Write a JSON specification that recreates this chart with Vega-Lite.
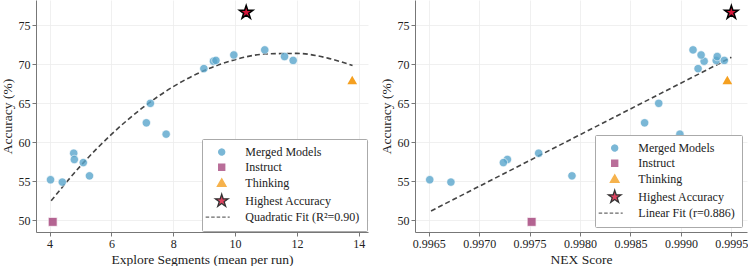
{
  "padding": {"left": 0, "top": 0, "right": 0, "bottom": 0},
  "datasets": {
    "models": [
      {"type": "Merged Models", "seg": 4.03, "nex": 0.99651, "acc": 55.2},
      {"type": "Merged Models", "seg": 4.41, "nex": 0.99672, "acc": 54.9},
      {"type": "Merged Models", "seg": 4.78, "nex": 0.99759, "acc": 58.6},
      {"type": "Merged Models", "seg": 4.80, "nex": 0.99728, "acc": 57.8},
      {"type": "Merged Models", "seg": 5.09, "nex": 0.99724, "acc": 57.4},
      {"type": "Merged Models", "seg": 5.29, "nex": 0.99792, "acc": 55.7},
      {"type": "Merged Models", "seg": 7.13, "nex": 0.99864, "acc": 62.5},
      {"type": "Merged Models", "seg": 7.26, "nex": 0.99878, "acc": 65.0},
      {"type": "Merged Models", "seg": 7.77, "nex": 0.99899, "acc": 61.05},
      {"type": "Merged Models", "seg": 8.99, "nex": 0.99917, "acc": 69.45},
      {"type": "Merged Models", "seg": 9.30, "nex": 0.99923, "acc": 70.4},
      {"type": "Merged Models", "seg": 9.38, "nex": 0.99935, "acc": 70.5},
      {"type": "Merged Models", "seg": 9.96, "nex": 0.99920, "acc": 71.2},
      {"type": "Merged Models", "seg": 10.96, "nex": 0.99912, "acc": 71.85},
      {"type": "Merged Models", "seg": 11.60, "nex": 0.99936, "acc": 71.0},
      {"type": "Merged Models", "seg": 11.88, "nex": 0.99943, "acc": 70.5},
      {"type": "Instruct", "seg": 4.10, "nex": 0.99752, "acc": 49.8},
      {"type": "Thinking", "seg": 13.79, "nex": 0.99946, "acc": 68.0},
      {"type": "Highest Accuracy", "seg": 10.36, "nex": 0.99950, "acc": 76.65}
    ],
    "quad": [
      {"seg": 4.05, "acc": 52.5},
      {"seg": 5.0, "acc": 56.97},
      {"seg": 6.0, "acc": 61.02},
      {"seg": 7.0, "acc": 64.41},
      {"seg": 8.0, "acc": 67.14},
      {"seg": 9.0, "acc": 69.2},
      {"seg": 10.0, "acc": 70.6},
      {"seg": 11.0, "acc": 71.33},
      {"seg": 12.0, "acc": 71.4},
      {"seg": 13.0, "acc": 70.8},
      {"seg": 13.8, "acc": 69.84}
    ],
    "lin": [
      {"nex": 0.996523, "acc": 51.2},
      {"nex": 0.9995, "acc": 70.9}
    ]
  },
  "spacing": 11,
  "resolve": {
    "scale": {"color": "independent", "shape": "independent", "stroke": "independent", "strokeDash": "independent"},
    "legend": {"color": "independent", "shape": "independent", "stroke": "independent", "strokeDash": "independent"}
  },
  "hconcat": [
    {
      "width": 332,
      "height": 232,
      "layer": [
        {
          "data": {"name": "quad"},
          "mark": {"type": "line", "color": "#444444", "strokeDash": [5, 3], "strokeWidth": 1.6, "interpolate": "monotone"},
          "encoding": {
            "x": {"field": "seg", "type": "quantitative"},
            "y": {"field": "acc", "type": "quantitative"}
          }
        },
        {
          "data": {"name": "models"},
          "transform": [{"filter": {"field": "type", "equal": "Merged Models"}}],
          "mark": {"type": "point", "filled": true, "size": 70, "opacity": 0.8, "strokeWidth": 0.8},
          "encoding": {
            "x": {"field": "seg", "type": "quantitative"},
            "y": {"field": "acc", "type": "quantitative"},
            "color": {
              "field": "type", "type": "nominal",
              "scale": {"domain": ["Merged Models", "Instruct", "Thinking", "Highest Accuracy", "Quadratic Fit (R²=0.90)"], "range": ["#5aa6cc", "#a84a80", "#f5a020", "#d6153a", "#444444"]},
              "legend": {"title": null, "orient": "bottom-right", "offset": 1}
            },
            "shape": {
              "field": "type", "type": "nominal",
              "scale": {"domain": ["Merged Models", "Instruct", "Thinking", "Highest Accuracy", "Quadratic Fit (R²=0.90)"], "range": ["circle", "square", "triangle-up", "M0,-1.55L0.348,-0.479L1.474,-0.479L0.563,0.183L0.911,1.254L0,0.592L-0.911,1.254L-0.563,0.183L-1.474,-0.479L-0.348,-0.479Z", "M-3.7,0H1.85"]},
              "legend": {"title": null, "orient": "bottom-right", "offset": 1}
            },
            "stroke": {
              "field": "type", "type": "nominal",
              "scale": {"domain": ["Merged Models", "Instruct", "Thinking", "Highest Accuracy", "Quadratic Fit (R²=0.90)"], "range": ["#ffffff", "#ffffff", "#f5a020", "#000000", "#444444"]},
              "legend": {"title": null, "orient": "bottom-right", "offset": 1}
            },
            "strokeDash": {
              "field": "type", "type": "nominal",
              "scale": {"domain": ["Merged Models", "Instruct", "Thinking", "Highest Accuracy", "Quadratic Fit (R²=0.90)"], "range": [[1, 0], [1, 0], [1, 0], [1, 0], [3.5, 2]]},
              "legend": {"title": null, "orient": "bottom-right", "offset": 1}
            }
          }
        },
        {
          "data": {"name": "models"},
          "transform": [{"filter": {"field": "type", "equal": "Instruct"}}],
          "mark": {"type": "point", "shape": "square", "filled": true, "size": 80, "opacity": 0.85, "color": "#a84a80", "stroke": "white", "strokeWidth": 0.8},
          "encoding": {
            "x": {"field": "seg", "type": "quantitative"},
            "y": {"field": "acc", "type": "quantitative"}
          }
        },
        {
          "data": {"name": "models"},
          "transform": [{"filter": {"field": "type", "equal": "Thinking"}}],
          "mark": {"type": "point", "shape": "triangle-up", "filled": true, "size": 95, "opacity": 1, "color": "#f5a020"},
          "encoding": {
            "x": {"field": "seg", "type": "quantitative"},
            "y": {"field": "acc", "type": "quantitative"}
          }
        },
        {
          "data": {"name": "models"},
          "transform": [{"filter": {"field": "type", "equal": "Highest Accuracy"}}],
          "mark": {"type": "point", "shape": "M0,-1L0.2245,-0.309L0.951,-0.309L0.363,0.118L0.588,0.809L0,0.382L-0.588,0.809L-0.363,0.118L-0.951,-0.309L-0.2245,-0.309Z", "filled": true, "size": 200, "opacity": 1, "fill": "#d6153a", "stroke": "black", "strokeWidth": 1.5},
          "encoding": {
            "x": {"field": "seg", "type": "quantitative", "scale": {"domain": [3.56, 14.3], "nice": false, "zero": false}, "axis": {"values": [4, 6, 8, 10, 12, 14], "title": "Explore Segments (mean per run)"}},
            "y": {"field": "acc", "type": "quantitative", "scale": {"domain": [48.5, 78.25], "nice": false, "zero": false}, "axis": {"values": [50, 55, 60, 65, 70, 75], "title": "Accuracy (%)"}}
          }
        }
      ]
    },
    {
      "width": 332,
      "height": 232,
      "layer": [
        {
          "data": {"name": "lin"},
          "mark": {"type": "line", "color": "#444444", "strokeDash": [5, 3], "strokeWidth": 1.6},
          "encoding": {
            "x": {"field": "nex", "type": "quantitative"},
            "y": {"field": "acc", "type": "quantitative"}
          }
        },
        {
          "data": {"name": "models"},
          "transform": [{"filter": {"field": "type", "equal": "Merged Models"}}],
          "mark": {"type": "point", "filled": true, "size": 70, "opacity": 0.8, "strokeWidth": 0.8},
          "encoding": {
            "x": {"field": "nex", "type": "quantitative"},
            "y": {"field": "acc", "type": "quantitative"},
            "color": {
              "field": "type", "type": "nominal",
              "scale": {"domain": ["Merged Models", "Instruct", "Thinking", "Highest Accuracy", "Linear Fit (r=0.886)"], "range": ["#5aa6cc", "#a84a80", "#f5a020", "#d6153a", "#444444"]},
              "legend": {"title": null, "orient": "bottom-right", "offset": 5}
            },
            "shape": {
              "field": "type", "type": "nominal",
              "scale": {"domain": ["Merged Models", "Instruct", "Thinking", "Highest Accuracy", "Linear Fit (r=0.886)"], "range": ["circle", "square", "triangle-up", "M0,-1.55L0.348,-0.479L1.474,-0.479L0.563,0.183L0.911,1.254L0,0.592L-0.911,1.254L-0.563,0.183L-1.474,-0.479L-0.348,-0.479Z", "M-3.7,0H1.85"]},
              "legend": {"title": null, "orient": "bottom-right", "offset": 5}
            },
            "stroke": {
              "field": "type", "type": "nominal",
              "scale": {"domain": ["Merged Models", "Instruct", "Thinking", "Highest Accuracy", "Linear Fit (r=0.886)"], "range": ["#ffffff", "#ffffff", "#f5a020", "#000000", "#444444"]},
              "legend": {"title": null, "orient": "bottom-right", "offset": 5}
            },
            "strokeDash": {
              "field": "type", "type": "nominal",
              "scale": {"domain": ["Merged Models", "Instruct", "Thinking", "Highest Accuracy", "Linear Fit (r=0.886)"], "range": [[1, 0], [1, 0], [1, 0], [1, 0], [3.5, 2]]},
              "legend": {"title": null, "orient": "bottom-right", "offset": 5}
            }
          }
        },
        {
          "data": {"name": "models"},
          "transform": [{"filter": {"field": "type", "equal": "Instruct"}}],
          "mark": {"type": "point", "shape": "square", "filled": true, "size": 80, "opacity": 0.85, "color": "#a84a80", "stroke": "white", "strokeWidth": 0.8},
          "encoding": {
            "x": {"field": "nex", "type": "quantitative"},
            "y": {"field": "acc", "type": "quantitative"}
          }
        },
        {
          "data": {"name": "models"},
          "transform": [{"filter": {"field": "type", "equal": "Thinking"}}],
          "mark": {"type": "point", "shape": "triangle-up", "filled": true, "size": 95, "opacity": 1, "color": "#f5a020"},
          "encoding": {
            "x": {"field": "nex", "type": "quantitative"},
            "y": {"field": "acc", "type": "quantitative"}
          }
        },
        {
          "data": {"name": "models"},
          "transform": [{"filter": {"field": "type", "equal": "Highest Accuracy"}}],
          "mark": {"type": "point", "shape": "M0,-1L0.2245,-0.309L0.951,-0.309L0.363,0.118L0.588,0.809L0,0.382L-0.588,0.809L-0.363,0.118L-0.951,-0.309L-0.2245,-0.309Z", "filled": true, "size": 200, "opacity": 1, "fill": "#d6153a", "stroke": "black", "strokeWidth": 1.5},
          "encoding": {
            "x": {"field": "nex", "type": "quantitative", "scale": {"domain": [0.996364, 0.999655], "nice": false, "zero": false}, "axis": {"values": [0.9965, 0.997, 0.9975, 0.998, 0.9985, 0.999, 0.9995], "format": ".4f", "title": "NEX Score"}},
            "y": {"field": "acc", "type": "quantitative", "scale": {"domain": [48.5, 78.25], "nice": false, "zero": false}, "axis": {"values": [50, 55, 60, 65, 70, 75], "title": "Accuracy (%)"}}
          }
        }
      ]
    }
  ],
  "config": {
    "view": {"stroke": null},
    "font": "Liberation Serif",
    "axis": {
      "labelFont": "Liberation Serif", "labelFontSize": 12, "labelColor": "#222222",
      "titleFont": "Liberation Serif", "titleFontSize": 13.5, "titleFontWeight": "normal", "titleColor": "#222222",
      "domainColor": "#777777", "tickColor": "#777777", "tickSize": 4, "labelPadding": 2,
      "gridColor": "#ececec", "gridWidth": 0.8, "labelFlush": false
    },
    "axisX": {"titlePadding": 3},
    "axisY": {"titlePadding": 4},
    "legend": {
      "labelFont": "Liberation Serif", "labelFontSize": 12, "labelColor": "#222222",
      "fillColor": "white", "strokeColor": "#aaaaaa", "padding": 7, "rowPadding": 1.3,
      "symbolSize": 75, "symbolOffset": 6.7, "labelOffset": 17.6, "symbolStrokeWidth": 1.3, "cornerRadius": 1
    }
  }
}
